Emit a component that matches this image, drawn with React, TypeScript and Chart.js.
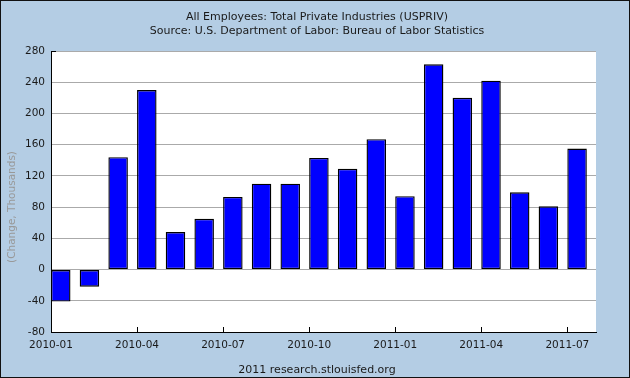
import React, { useEffect, useRef } from "react";
import { Chart, registerables } from "chart.js";

Chart.register(...registerables);

const months = [
  "2010-01", "2010-02", "2010-03", "2010-04", "2010-05", "2010-06", "2010-07",
  "2010-08", "2010-09", "2010-10", "2010-11", "2010-12", "2011-01", "2011-02",
  "2011-03", "2011-04", "2011-05", "2011-06", "2011-07",
];
const changes = [-41, -22, 144, 230, 48, 65, 93, 110, 110, 143, 129, 167, 94, 263, 220, 242, 99, 81, 155];
const xTickEvery = 3;
const yMin = -80;
const yMax = 280;
const yStep = 40;
const titleLines = [
  "All Employees: Total Private Industries (USPRIV)",
  "Source: U.S. Department of Labor: Bureau of Labor Statistics",
];
const yAxisTitle = "(Change, Thousands)";
const footer = "2011 research.stlouisfed.org";

const FONT = "'DejaVu Sans', Verdana, sans-serif";
const BG = "rgb(180,205,228)";

export default function App() {
  const ref = useRef<HTMLCanvasElement | null>(null);

  useEffect(() => {
    const canvas = ref.current;
    if (!canvas) return;
    document.body.style.margin = "0";

    const decor = {
      id: "decor",
      beforeDraw(chart: any) {
        const { ctx, width, height } = chart;
        ctx.save();
        ctx.fillStyle = BG;
        ctx.fillRect(0, 0, width, height);
        const a = chart.chartArea;
        ctx.fillStyle = "#ffffff";
        ctx.fillRect(a.left, a.top, a.right - a.left, a.bottom - a.top);
        ctx.restore();
      },
      afterDraw(chart: any) {
        const { ctx, width, height } = chart;
        const a = chart.chartArea;
        const xs = chart.scales.x;
        ctx.save();
        ctx.strokeStyle = "#000";
        ctx.lineWidth = 1;
        ctx.beginPath();
        xs.ticks.forEach((t: any) => {
          const px = Math.round(xs.getPixelForValue(t.value)) + 0.5;
          ctx.moveTo(px, a.bottom);
          ctx.lineTo(px, a.bottom - 5);
        });
        const ty = Math.round(a.top) + 0.5;
        ctx.moveTo(a.left, ty);
        ctx.lineTo(a.left + 5, ty);
        ctx.stroke();

        ctx.fillStyle = "#1a1a1a";
        ctx.textAlign = "center";
        ctx.textBaseline = "middle";
        ctx.font = `11px ${FONT}`;
        ctx.fillText(titleLines[0], 317, 17);
        ctx.fillText(titleLines[1], 317, 31);
        ctx.fillText(footer, 317, 370);

        ctx.save();
        ctx.translate(12, 207);
        ctx.rotate(-Math.PI / 2);
        ctx.fillStyle = "#999999";
        ctx.font = `10.5px ${FONT}`;
        ctx.fillText(yAxisTitle, 0, 0);
        ctx.restore();

        ctx.strokeStyle = "#111";
        ctx.strokeRect(0.5, 0.5, width - 1, height - 1);
        ctx.restore();
      },
    };

    const chart = new Chart(canvas, {
      type: "bar",
      data: {
        datasets: [
          {
            data: changes.map((v, i) => ({ x: i + 0.34, y: v })),
            backgroundColor: "#0000ff",
            borderColor: "#000000",
            borderWidth: 1.4,
            borderSkipped: false,
            categoryPercentage: 1,
            barPercentage: 0.68,
          },
        ],
      },
      options: {
        animation: false,
        responsive: false,
        devicePixelRatio: 1,
        layout: { padding: { left: 0, top: 51, right: 34, bottom: 0 } },
        plugins: { legend: { display: false }, tooltip: { enabled: false }, title: { display: false } },
        scales: {
          x: {
            type: "linear",
            min: 0,
            max: months.length,
            offset: false,
            grid: { display: false, drawTicks: false, offset: false },
            border: { display: true, color: "#000", width: 1 },
            afterBuildTicks(scale: any) {
              scale.ticks = months
                .map((_, i) => i)
                .filter((i) => i % xTickEvery === 0)
                .map((i) => ({ value: i }));
            },
            afterFit(scale: any) {
              scale.height = 46;
            },
            ticks: {
              autoSkip: false,
              maxRotation: 0,
              padding: 7,
              color: "#1a1a1a",
              font: { family: FONT, size: 10.5 },
              callback: (v: any) => months[v as number] ?? "",
            },
          },
          y: {
            min: yMin,
            max: yMax,
            grid: { color: "#aaaaaa", lineWidth: 1, drawTicks: false },
            border: { display: true, color: "#000", width: 1 },
            afterFit(scale: any) {
              scale.width = 51;
            },
            ticks: {
              stepSize: yStep,
              padding: 6,
              color: "#1a1a1a",
              font: { family: FONT, size: 10.5 },
            },
          },
        },
      },
      plugins: [decor],
    });

    return () => chart.destroy();
  }, []);

  return (
    <div style={{ position: "absolute", left: 0, top: 0, width: 630, height: 378 }}>
      <canvas ref={ref} width={630} height={378} />
    </div>
  );
}
